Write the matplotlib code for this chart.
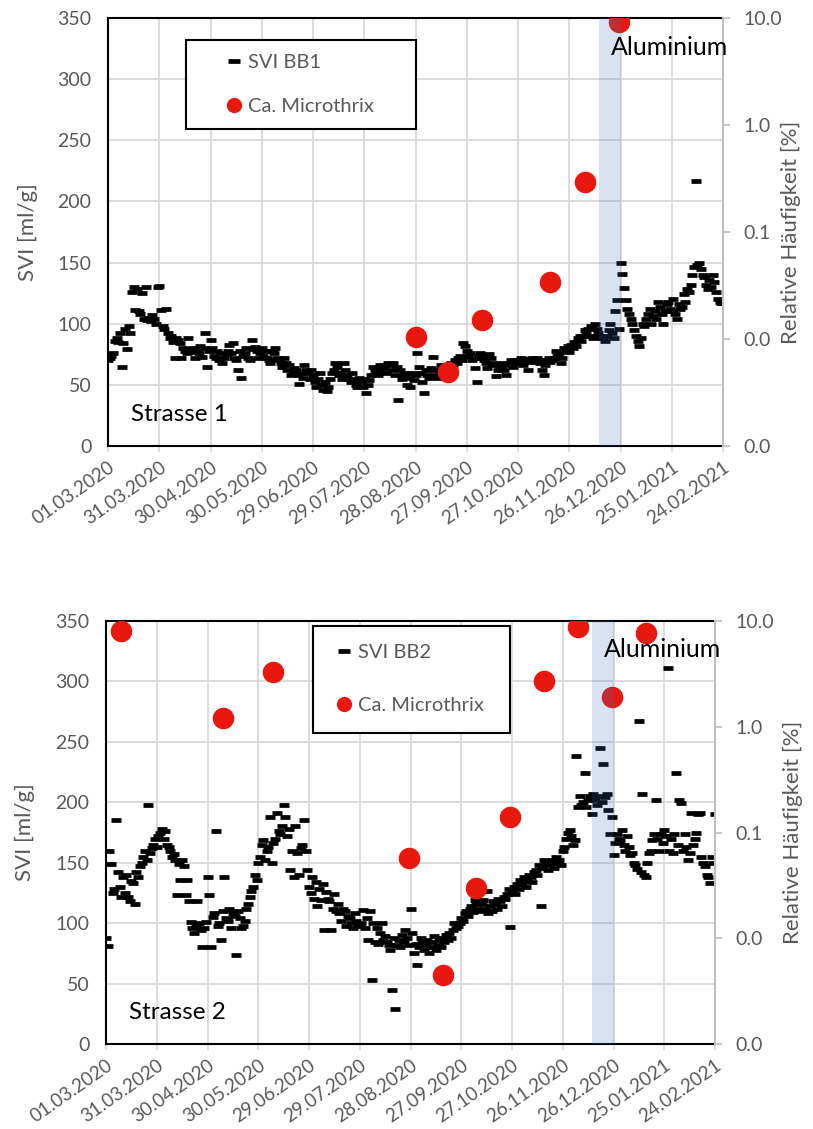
import numpy as np
import matplotlib
matplotlib.use('Agg')
import matplotlib.pyplot as plt
from matplotlib.lines import Line2D
from matplotlib.patches import Rectangle
from matplotlib.ticker import FixedLocator, NullLocator, FuncFormatter

plt.rcParams['font.family'] = ['Lato', 'DejaVu Sans']

# ---------------- data ----------------
date_labels = ['01.03.2020', '31.03.2020', '30.04.2020', '30.05.2020', '29.06.2020',
               '29.07.2020', '28.08.2020', '27.09.2020', '27.10.2020', '26.11.2020',
               '26.12.2020', '25.01.2021', '24.02.2021']
tick_days = [0, 30, 60, 90, 120, 150, 180, 210, 240, 270, 300, 330, 360]

# daily SVI values, day 0 = 01.03.2020
svi_bb1 = [
    70, 72, 74, 76, 86, 88, 85, 92, 65, 84,
    96, 79, 98, 92, 126, 130, 111, 128, 110, 108,
    125, 104, 130, 103, 105, 102, 107, 104, 100, 130,
    131, 111, 98, 96, 112, 92, 88, 90, 85, 72,
    88, 87, 84, 72, 80, 78, 76, 88, 79, 77,
    80, 72, 78, 76, 82, 73, 80, 92, 65, 78,
    87, 80, 74, 72, 78, 70, 76, 68, 72, 75,
    78, 83, 76, 84, 72, 70, 62, 78, 56, 74,
    76, 80, 72, 70, 87, 79, 81, 78, 72, 76,
    80, 74, 78, 72, 70, 68, 78, 76, 80, 72,
    70, 68, 65, 72, 68, 62, 66, 58, 60, 64,
    62, 58, 51, 60, 56, 66, 62, 60, 55, 62,
    58, 52, 48, 55, 60, 50, 46, 52, 45, 48,
    55, 60, 62, 68, 65, 58, 60, 55, 68, 62,
    58, 55, 52, 60, 54, 50, 48, 56, 52, 48,
    55, 43, 50, 54, 58, 65, 62, 60, 58, 66,
    62, 64, 66, 60, 68, 66, 62, 68, 58, 65,
    38, 62, 55, 58, 60, 50, 56, 48, 60, 54,
    58, 76, 65, 60, 52, 43, 62, 58, 56, 64,
    73, 62, 58, 56, 62, 66, 60, 58, 64, 66,
    63, 68, 66, 70, 68, 72, 74, 70, 84, 82,
    78, 74, 76, 70, 72, 64, 52, 74, 76, 72,
    70, 68, 64, 75, 72, 66, 68, 57, 62, 66,
    64, 68, 62, 58, 66, 68, 70, 65, 68, 70,
    68, 70, 72, 66, 71, 69, 62, 70, 72, 70,
    69, 72, 70, 68, 62, 58, 66, 70, 72, 69,
    70, 72, 78, 74, 76, 68, 72, 80, 78, 82,
    77, 83, 80, 85, 82, 88, 90, 86, 90, 95,
    92, 96, 90, 98, 88, 100, 96, 92, 90, 88,
    88, 86, 90, 95, 100, 92, 88, 110, 119, 96,
    150, 141, 129, 119, 112, 108, 104, 100, 95, 90,
    86, 82, 88, 100, 98, 104, 108, 112, 100, 106,
    110, 104, 118, 114, 108, 100, 110, 116, 118, 112,
    110, 120, 108, 104, 116, 112, 114, 124, 118, 128,
    126, 132, 140, 146, 217, 148, 150, 145, 140, 138,
    132, 128, 136, 130, 140, 134, 126, 120, 118, 117,
    117]

svi_bb2 = [
    88, 81, 160, 149, 125, 128, 185, 142, 130, 122,
    138, 125, 140, 122, 118, 135, 133, 116, 142, 138,
    147, 150, 155, 160, 152, 198, 158, 162, 165, 170,
    163, 172, 175, 178, 170, 176, 165, 163, 160, 155,
    157, 152, 123, 149, 136, 152, 147, 123, 136, 118,
    101, 96, 92, 98, 118, 100, 94, 80, 96, 101,
    138, 123, 80, 105, 108, 176, 98, 100, 86, 110,
    138, 104, 102, 112, 96, 108, 106, 74, 110, 104,
    96, 98, 102, 112, 116, 122, 127, 130, 140, 136,
    150, 155, 165, 169, 152, 160, 163, 188, 150, 166,
    170, 191, 176, 174, 180, 198, 188, 172, 178, 144,
    160, 138, 180, 158, 140, 162, 165, 185, 160, 144,
    130, 125, 138, 120, 134, 114, 128, 119, 132, 94,
    126, 120, 118, 94, 112, 124, 110, 116, 108, 102,
    112, 110, 98, 106, 104, 100, 96, 108, 102, 99,
    98, 100, 111, 96, 104, 86, 110, 53, 100, 84,
    96, 83, 92, 100, 86, 89, 84, 82, 78, 45,
    88, 29, 82, 86, 80, 90, 84, 94, 88, 82,
    112, 92, 75, 83, 65, 80, 88, 84, 78, 82,
    86, 75, 80, 84, 89, 78, 82, 86, 80, 88,
    84, 90, 86, 92, 88, 94, 100, 96, 98, 100,
    104, 102, 108, 110, 106, 112, 114, 109, 119, 116,
    112, 110, 116, 119, 112, 127, 108, 114, 110, 118,
    116, 112, 120, 118, 114, 122, 120, 124, 128, 97,
    126, 130, 124, 132, 128, 136, 132, 138, 130, 135,
    140, 138, 134, 142, 144, 140, 148, 114, 146, 152,
    150, 144, 148, 150, 152, 146, 155, 150, 152, 148,
    160, 163, 170, 175, 177, 172, 165, 169, 238, 196,
    205, 198, 200, 224, 196, 202, 205, 190, 207, 202,
    198, 205, 245, 200, 232, 204, 207, 194, 174, 188,
    156, 166, 174, 170, 168, 177, 165, 160, 172, 163,
    156, 158, 150, 148, 145, 267, 142, 207, 140, 138,
    150, 158, 160, 169, 174, 202, 170, 160, 174, 166,
    177, 172, 311, 160, 170, 158, 174, 224, 165, 202,
    199, 160, 174, 163, 152, 158, 191, 165, 170, 175,
    190, 191, 155, 150, 147, 140, 138, 133, 155, 150,
    190]

# Ca. Microthrix relative abundance [%]
micro1_days = [180, 199, 219, 259, 279, 299]
micro1_vals = [0.0104, 0.0049, 0.0151, 0.034, 0.293, 9.2]
micro2_days = [9, 69, 99, 179, 199, 219, 239, 259, 279, 299, 319]
micro2_vals = [8.1, 1.20, 3.3, 0.057, 0.0045, 0.030, 0.139, 2.69, 8.8, 1.90, 7.7]

alu_start, alu_end = 287.5, 300

GRAY = '#595959'
RED = '#E8180E'


def panel(rect, svi, mdays, mvals, svi_name, strasse, leg_box, leg_anchor,
          leg_spacing, ylab_x, rlab_x):
    ax = fig.add_axes(rect)
    days = np.arange(len(svi))
    ax.plot(days, svi, ls='none', marker='_', ms=7.5, mew=3.4, color='black', zorder=3)
    ax.set_xlim(0, 360)
    ax.set_ylim(0, 350)
    ax.set_xticks(tick_days)
    ax.set_xticklabels(date_labels, rotation=35, ha='right', va='top',
                       rotation_mode='anchor', color=GRAY, fontsize=13.5)
    ax.set_yticks(range(0, 351, 50))
    ax.grid(True, color='#d9d9d9', lw=1.3)
    ax.set_axisbelow(True)
    ax.tick_params(axis='y', length=0, pad=12, labelsize=14, labelcolor=GRAY)
    ax.tick_params(axis='x', length=4, color='#d9d9d9', width=1.2, pad=5)
    for s in ['left', 'bottom', 'top']:
        ax.spines[s].set_color('black')
        ax.spines[s].set_linewidth(1.5)
    ax.spines['right'].set_visible(False)
    ax.set_ylabel('SVI [ml/g]', fontsize=16, color=GRAY)
    ax.yaxis.set_label_coords(ylab_x, 0.5)
    ax.yaxis.label.set_va('center')

    ax2 = ax.twinx()
    ax2.set_yscale('log')
    ax2.set_ylim(0.001, 10)
    ax2.plot(mdays, mvals, ls='none', marker='o', ms=15.5, color=RED, mec='none', zorder=4)
    ax2.yaxis.set_major_locator(FixedLocator([0.001, 0.01, 0.1, 1, 10]))
    ax2.yaxis.set_minor_locator(NullLocator())
    ax2.yaxis.set_major_formatter(FuncFormatter(lambda v, p: f'{v:.1f}'))
    ax2.tick_params(axis='y', length=5, width=1.2, color='#bfbfbf', pad=10,
                    labelsize=14, labelcolor=GRAY)
    for s in ['left', 'bottom', 'top']:
        ax2.spines[s].set_visible(False)
    ax2.spines['right'].set_color('#bfbfbf')
    ax2.spines['right'].set_linewidth(1.5)
    ax2.set_ylabel('Relative Häufigkeit [%]', fontsize=16, color=GRAY)
    ax2.yaxis.set_label_coords(rlab_x, 0.5)
    ax2.yaxis.label.set_va('center')
    ax2.axvspan(alu_start, alu_end, color='#4472C4', alpha=0.2, lw=0, zorder=5)
    ax2.text(0.818, 0.932, 'Aluminium', transform=ax2.transAxes, fontsize=18,
             ha='left', va='center', color='black', zorder=7)
    ax2.text(0.037, 0.074, strasse, transform=ax2.transAxes, fontsize=17.5,
             ha='left', va='center', color='black', zorder=7)

    x0, y0, w, h = leg_box
    ax2.add_patch(Rectangle((x0, y0), w, h, transform=ax2.transAxes, facecolor='white',
                            edgecolor='black', lw=1.5, zorder=8))
    handles = [Line2D([], [], ls='none', marker='_', ms=9, mew=3.4, color='black'),
               Line2D([], [], ls='none', marker='o', ms=11, color=RED, mec='none')]
    leg = ax2.legend(handles, [svi_name, 'Ca. Microthrix'], loc='center left',
                     bbox_to_anchor=leg_anchor, frameon=False, borderpad=0,
                     borderaxespad=0, handlelength=1.0, handletextpad=0.2,
                     labelspacing=leg_spacing, fontsize=14.5)
    for t in leg.get_texts():
        t.set_color(GRAY)
    leg.set_zorder(9)
    return ax, ax2


fig = plt.figure(figsize=(8.13, 11.29), dpi=100)

panel([108 / 813, 1 - 446 / 1129, 615 / 813, 428 / 1129], svi_bb1, micro1_days, micro1_vals,
      'SVI BB1', 'Strasse 1',
      ((186 - 108) / 615, (446 - 129) / 428, 230 / 615, 89 / 428),
      ((224 - 108) / 615, (446 - 84.5) / 428), 1.3, -0.130, 1.111)

panel([106 / 813, 1 - 1044 / 1129, 609 / 813, 423 / 1129], svi_bb2, micro2_days, micro2_vals,
      'SVI BB2', 'Strasse 2',
      ((313 - 106) / 609, (1044 - 733) / 423, 197 / 609, 107 / 423),
      ((334 - 106) / 609, (1044 - 679) / 423), 1.75, -0.133, 1.128)

fig.savefig('out.png', dpi=100)
